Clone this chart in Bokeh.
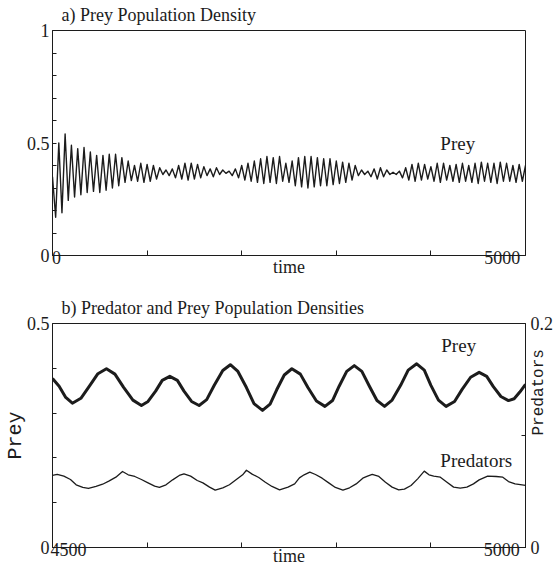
import numpy as np
from bokeh.plotting import figure
from bokeh.layouts import column
from bokeh.models import Range1d, LinearAxis, Label, FixedTicker
from bokeh.embed import file_html
from bokeh.resources import INLINE

# ---------------- data ----------------
# a) prey density 0..5000: start value, then alternating trough / peak per cycle
prey_a_start = 0.35
prey_a_troughs = [
    0.17, 0.19, 0.245, 0.26, 0.27, 0.28, 0.285, 0.28, 0.29, 0.30,
    0.31, 0.325, 0.333, 0.33, 0.325, 0.33, 0.34, 0.36, 0.355, 0.345,
    0.34, 0.335, 0.34, 0.345, 0.355, 0.35, 0.36, 0.365, 0.355, 0.345,
    0.335, 0.33, 0.325, 0.32, 0.325, 0.32, 0.33, 0.325, 0.31, 0.305,
    0.30, 0.305, 0.31, 0.31, 0.315, 0.32, 0.325, 0.335, 0.355, 0.36,
    0.35, 0.34, 0.35, 0.36, 0.36, 0.345, 0.335, 0.33, 0.335, 0.34,
    0.33, 0.325, 0.335, 0.33, 0.325, 0.33, 0.325, 0.32, 0.33, 0.325,
    0.32, 0.33, 0.33, 0.325, 0.33]
prey_a_peaks = [
    0.50, 0.54, 0.49, 0.475, 0.48, 0.46, 0.445, 0.445, 0.45, 0.45,
    0.435, 0.42, 0.40, 0.41, 0.405, 0.40, 0.39, 0.38, 0.385, 0.40,
    0.41, 0.41, 0.405, 0.395, 0.385, 0.39, 0.38, 0.375, 0.385, 0.40,
    0.41, 0.42, 0.43, 0.44, 0.435, 0.44, 0.41, 0.42, 0.435, 0.44,
    0.44, 0.435, 0.43, 0.43, 0.42, 0.415, 0.41, 0.40, 0.38, 0.375,
    0.385, 0.39, 0.38, 0.37, 0.375, 0.39, 0.405, 0.41, 0.405, 0.395,
    0.41, 0.41, 0.40, 0.405, 0.41, 0.40, 0.41, 0.415, 0.41, 0.41,
    0.415, 0.41, 0.40, 0.405, 0.40]

# b) 4500..5000
t_b_prey = [4500, 4507, 4514, 4521, 4530, 4539, 4548, 4557, 4566, 4575,
            4585, 4594, 4601, 4609, 4616, 4624, 4632, 4639, 4647, 4655,
            4663, 4671, 4680, 4688, 4696, 4705, 4713, 4722, 4730, 4737,
            4745, 4753, 4762, 4770, 4779, 4788, 4796, 4803, 4811, 4819,
            4827, 4835, 4843, 4851, 4859, 4868, 4876, 4885, 4893, 4900,
            4908, 4916, 4925, 4933, 4942, 4951, 4959, 4966, 4974, 4982,
            4988, 4994, 5000]
prey_b = [0.377, 0.360, 0.335, 0.322, 0.333, 0.360, 0.388, 0.399, 0.387, 0.358,
          0.329, 0.317, 0.326, 0.349, 0.373, 0.382, 0.373, 0.349, 0.326, 0.317,
          0.330, 0.362, 0.395, 0.408, 0.393, 0.357, 0.321, 0.306, 0.320, 0.352,
          0.385, 0.399, 0.387, 0.357, 0.327, 0.315, 0.328, 0.360, 0.393, 0.406,
          0.393, 0.360, 0.328, 0.315, 0.329, 0.362, 0.396, 0.410, 0.396, 0.362,
          0.329, 0.315, 0.326, 0.353, 0.380, 0.391, 0.382, 0.359, 0.337, 0.328,
          0.332, 0.347, 0.364]

t_b_pred = [4500, 4505, 4512, 4519, 4525, 4532, 4538, 4546, 4553, 4560,
            4567, 4574, 4580, 4587, 4594, 4601, 4608, 4613, 4620, 4627,
            4634, 4639, 4646, 4653, 4659, 4666, 4672, 4680, 4687, 4694,
            4701, 4705, 4711, 4718, 4725, 4732, 4740, 4749, 4756, 4761,
            4766, 4772, 4778, 4785, 4792, 4799, 4807, 4814, 4821, 4828,
            4833, 4838, 4845, 4852, 4859, 4866, 4872, 4879, 4886, 4893,
            4898, 4903, 4910, 4917, 4924, 4931, 4938, 4945, 4951, 4960,
            4969, 4976, 4982, 4989, 5000]
pred_b = [0.0643, 0.0652, 0.0637, 0.0607, 0.0560, 0.0536, 0.0527, 0.0545, 0.0565, 0.0595,
          0.0628, 0.0679, 0.0649, 0.0634, 0.0607, 0.0577, 0.0548, 0.0536, 0.0560, 0.0604,
          0.0643, 0.0658, 0.0637, 0.0598, 0.0577, 0.0539, 0.0512, 0.0533, 0.0560, 0.0604,
          0.0649, 0.0690, 0.0655, 0.0625, 0.0583, 0.0545, 0.0515, 0.0539, 0.0568, 0.0622,
          0.0649, 0.0673, 0.0652, 0.0619, 0.0577, 0.0536, 0.0512, 0.0533, 0.0568, 0.0619,
          0.0637, 0.0652, 0.0634, 0.0583, 0.0539, 0.0515, 0.0521, 0.0554, 0.0613, 0.0682,
          0.0649, 0.0637, 0.0628, 0.0583, 0.0539, 0.0530, 0.0539, 0.0568, 0.0604, 0.0637,
          0.0634, 0.0628, 0.0589, 0.0568, 0.0554]

# tick marks and labelled positions
ticks_a_x = [0, 1000, 2000, 3000, 4000, 5000]
ticks_a_y = [0, 0.1, 0.2, 0.3, 0.4, 0.5, 0.6, 0.7, 0.8, 0.9, 1.0]
labels_a_x = {41: "0", 4753: "5000"}
labels_a_y = {0: "0", 0.5: "0.5", 1: "1"}
ticks_b_x = [4500, 4600, 4700, 4800, 4900, 5000]
ticks_b_y = [0, 0.1, 0.2, 0.3, 0.4, 0.5]
ticks_b_pred = [0, 0.1, 0.2]
labels_b_x = {4517: "4500", 4975: "5000"}
labels_b_y = {0: "0", 0.5: "0.5"}
labels_b_pred = {0: "0", 0.2: "0.2"}

# ---------------- build series ----------------
prey_a = [prey_a_start]
for tr, pk in zip(prey_a_troughs, prey_a_peaks):
    prey_a += [tr, pk]
t_a = np.linspace(0, 5000, len(prey_a))

INK = "#1c1c1c"
SERIF = "Liberation Serif"
MONO = "Liberation Mono"
W = 559


def style_axis(ax, minor, labels, tin, standoff):
    ax.ticker = FixedTicker(ticks=list(labels.keys()), minor_ticks=minor)
    ax.major_label_overrides = dict(labels)
    ax.major_tick_line_color = None
    ax.major_tick_in = 0
    ax.major_tick_out = 0
    ax.minor_tick_in = tin
    ax.minor_tick_out = 0
    ax.minor_tick_line_color = INK
    ax.axis_line_color = INK
    ax.major_label_text_font = SERIF
    ax.major_label_text_font_size = "18px"
    ax.major_label_text_color = INK
    ax.major_label_standoff = standoff


def axis_title(ax, text, font, size, standoff):
    ax.axis_label = text
    ax.axis_label_text_font = font
    ax.axis_label_text_font_size = size
    ax.axis_label_text_font_style = "normal"
    ax.axis_label_text_color = INK
    ax.axis_label_standoff = standoff


def base_fig(h, xr, yr, top, bottom, right, title):
    p = figure(width=W, height=h, x_range=xr, y_range=yr,
               output_backend="svg", toolbar_location=None,
               min_border_left=46, min_border_right=right,
               min_border_top=top, min_border_bottom=bottom)
    p.xgrid.visible = False
    p.ygrid.visible = False
    p.outline_line_color = INK
    p.outline_line_alpha = 1
    p.background_fill_color = "white"
    p.border_fill_color = "white"
    p.title.text = title
    p.title.align = "left"
    p.title.offset = 9
    p.title.vertical_align = "top"
    p.title.standoff = 7
    p.title.text_font = SERIF
    p.title.text_font_size = "18px"
    p.title.text_font_style = "normal"
    p.title.text_color = INK
    return p


def lab(p, x, y, text, size="19px", font=SERIF, align="left", base="alphabetic"):
    p.add_layout(Label(x=x, y=y, text=text, text_font=font, text_font_size=size,
                       text_align=align, text_baseline=base, text_color=INK))


# ---------------- panel a ----------------
p1 = base_fig(294, Range1d(0, 5000), Range1d(0, 1), 30, 39, 27,
              "a) Prey Population Density")
style_axis(p1.xaxis[0], ticks_a_x, labels_a_x, 5, -5)
axis_title(p1.xaxis[0], "time", SERIF, "18px", -10)
style_axis(p1.yaxis[0], ticks_a_y, labels_a_y, 4, 3)
p1.line(t_a, prey_a, line_color=INK, line_width=1.4, line_join="round")
lab(p1, 4100, 0.5, "Prey")

# ---------------- panel b ----------------
p2 = base_fig(275, Range1d(4500, 5000), Range1d(0, 0.5), 29, 22, 28,
              "b) Predator and Prey Population Densities")
p2.extra_y_ranges = {"pred": Range1d(0, 0.2)}
rax = LinearAxis(y_range_name="pred")
p2.add_layout(rax, "right")
style_axis(p2.xaxis[0], ticks_b_x, labels_b_x, 5, -5)
axis_title(p2.xaxis[0], "time", SERIF, "18px", -13)
style_axis(p2.yaxis[0], ticks_b_y, labels_b_y, 4, 3)
axis_title(p2.yaxis[0], "Prey", MONO, "20px", -3)
style_axis(rax, ticks_b_pred, labels_b_pred, 4, 5)

# second right axis (stacked outside the first) carrying only the title
pax = LinearAxis(y_range_name="pred", bounds=(0, 0.15))
pax.ticker = FixedTicker(ticks=[], minor_ticks=[])
pax.axis_line_color = None
pax.major_tick_line_color = None
pax.minor_tick_line_color = None
pax.major_tick_out = 0
pax.minor_tick_out = 0
pax.major_label_standoff = 0
axis_title(pax, "Predators", MONO, "16px", -18)
pax.axis_label_orientation = np.pi / 2
p2.add_layout(pax, "right")

p2.line(t_b_prey, prey_b, line_color=INK, line_width=3, line_join="round")
p2.line(t_b_pred, pred_b, line_color=INK, line_width=1.3, y_range_name="pred",
        line_join="round")
lab(p2, 4911, 0.451, "Prey")
lab(p2, 4910, 0.194, "Predators")

layout = column(p1, p2)
open("out.html", "w").write(file_html(layout, INLINE))
